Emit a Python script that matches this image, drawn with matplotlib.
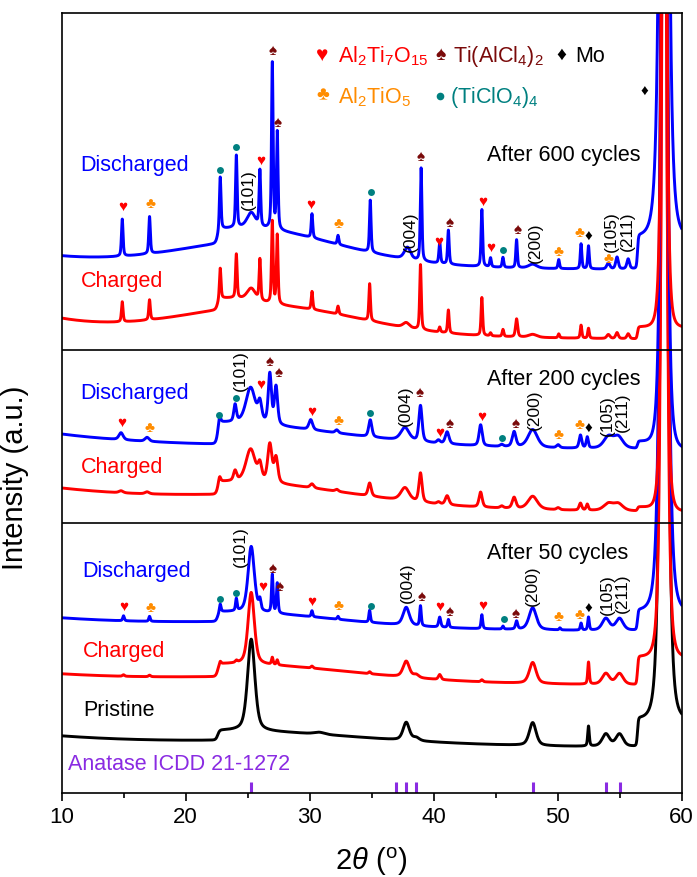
import numpy as np
import matplotlib
matplotlib.use("Agg")
import matplotlib.pyplot as plt

plt.rcParams['font.family'] = ['Liberation Sans', 'DejaVu Sans']
plt.rcParams['mathtext.fontset'] = 'custom'
plt.rcParams['mathtext.rm'] = 'Liberation Sans'
plt.rcParams['mathtext.it'] = 'Liberation Sans:italic'

# peaks: (2theta, height above background, fwhm)
top_dis_peaks = [(14.9, 37, 0.15), (17.1, 37, 0.15), (22.8, 53, 0.15), (24.1, 72, 0.15), (25.3, 15, 0.8),
                 (26.0, 56, 0.15), (27.0, 166, 0.15), (27.4, 97, 0.15), (30.2, 24, 0.15), (32.3, 9, 0.15),
                 (34.9, 52, 0.15), (37.9, 12, 0.6), (39.0, 93, 0.15), (40.5, 22, 0.15), (41.2, 34, 0.15),
                 (43.9, 57, 0.15), (44.6, 9, 0.15), (45.6, 10, 0.15), (46.7, 28, 0.15), (48.0, 4, 0.8),
                 (50.1, 9, 0.15), (51.9, 25, 0.15), (52.5, 23, 0.15), (54.1, 6, 0.3), (54.8, 12, 0.25),
                 (55.7, 10, 0.25)]
top_chg_peaks = [(14.9, 20, 0.15), (17.1, 20, 0.15), (22.8, 31, 0.15), (24.1, 44, 0.15), (25.3, 12, 0.8),
                 (26.0, 41, 0.15), (27.0, 82, 0.15), (27.4, 69, 0.15), (30.2, 18, 0.15), (32.3, 8, 0.15),
                 (34.85, 37, 0.15), (37.8, 5, 0.6), (38.95, 65, 0.15), (40.5, 5, 0.15), (41.2, 23, 0.15),
                 (43.9, 38, 0.15), (44.6, 3, 0.15), (45.6, 7, 0.15), (46.7, 18, 0.2), (48.0, 3, 0.8),
                 (50.1, 4, 0.15), (51.9, 13, 0.15), (52.5, 10, 0.15), (54.1, 4, 0.3), (54.8, 6, 0.25),
                 (55.7, 5, 0.25)]
mid_dis_peaks = [(14.8, 7, 0.4), (16.9, 4, 0.4), (22.75, 8, 0.2), (24.0, 17, 0.25), (25.25, 36, 0.9),
                 (26.0, 18, 0.35), (26.8, 50, 0.3), (27.3, 38, 0.3), (30.1, 10, 0.35), (32.2, 3, 0.3),
                 (34.9, 17, 0.3), (37.7, 13, 0.8), (38.95, 36, 0.3), (40.4, 3, 0.3), (41.1, 12, 0.35),
                 (43.8, 21, 0.3), (45.5, 2, 0.3), (46.5, 15, 0.35), (48.0, 18, 0.9), (50.05, 3, 0.3),
                 (51.85, 13, 0.25), (52.4, 11, 0.2), (54.1, 11.5, 0.9), (54.9, 11.5, 0.9)]
mid_chg_peaks = [(14.8, 2, 0.4), (16.9, 2, 0.4), (22.75, 6, 0.2), (24.0, 10, 0.3), (25.25, 33, 0.9),
                 (26.0, 15, 0.35), (26.8, 38, 0.4), (27.3, 25, 0.35), (30.2, 4, 0.35), (32.2, 2, 0.3),
                 (34.85, 13, 0.3), (37.7, 13, 0.8), (38.95, 29, 0.3), (40.4, 2, 0.3), (41.1, 9, 0.35),
                 (43.8, 15, 0.3), (45.5, 2, 0.3), (46.5, 11, 0.35), (48.0, 13, 0.9), (50.05, 2, 0.3),
                 (51.85, 7, 0.25), (52.4, 6, 0.2), (54.1, 7, 0.9), (54.9, 7, 0.9)]
bot_dis_peaks = [(15.0, 5, 0.15), (17.1, 5, 0.15), (22.8, 8, 0.15), (24.1, 12, 0.15), (25.3, 66, 0.6),
                 (26.0, 10, 0.2), (27.0, 38, 0.15), (27.4, 30, 0.15), (30.2, 6, 0.15), (32.3, 3, 0.15),
                 (34.85, 12, 0.15), (37.8, 18, 0.6), (38.95, 20, 0.15), (40.5, 10, 0.2), (41.2, 8, 0.15),
                 (43.9, 14, 0.15), (45.6, 3, 0.15), (46.7, 8, 0.2), (48.0, 22, 0.7), (50.2, 2, 0.15),
                 (51.9, 7, 0.15), (52.5, 13, 0.15), (53.9, 12, 0.7), (55.0, 12, 0.7)]
bot_chg_peaks = [(15.0, 1.5, 0.2), (17.1, 1.5, 0.2), (22.8, 3, 0.15), (24.1, 2, 0.2), (25.3, 72, 0.6),
                 (27.0, 7, 0.15), (27.4, 5, 0.15), (30.2, 2, 0.2), (34.85, 2, 0.2), (37.8, 16, 0.6),
                 (38.6, 3, 0.5), (40.5, 5, 0.25), (43.9, 2, 0.2), (48.0, 21, 0.65), (52.5, 22, 0.15),
                 (53.9, 11, 0.7), (55.0, 11, 0.7)]
pristine_peaks = [(25.3, 92, 0.7), (30.8, 2, 1.0), (37.8, 18, 0.6), (38.6, 3, 0.6), (48.0, 23, 0.65),
                  (52.5, 20, 0.15), (53.9, 12.5, 0.7), (55.0, 12.5, 0.7)]

# background: offset, slope, low-angle decay (amp, tau), broad hump, amorphous step (amp, tau),
# substrate shoulder (amp, tau), Mo substrate peak (height, width)
top_dis_bg = [529, -0.12, 7, 5, 26, 14, 7.5, 33, 99, 1871, 0.38]
top_chg_bg = [461, -0.15, 12.5, 5, 28, 11, 3.5, 12, 99, 1144, 0.26]
mid_dis_bg = [347, -0.07, 12, 8, 0, 22, 14, 7, 2, 1500, 0.3]
mid_chg_bg = [283, -0.05, 21.6, 15, 8, 13, 15, 4, 2, 1144, 0.26]
bot_dis_bg = [167, -0.11, 8, 10, 4, 10, 12, 20, 99, 1400, 0.38]
bot_chg_bg = [112, -0.09, 7, 10, 4, 13, 15, 28, 99, 1400, 0.3]
pristine_bg = [48, -0.05, 9, 10, 3, 10, 17, 28, 99, 1700, 0.35]

anatase_ref = [25.28, 36.95, 37.80, 38.58, 48.05, 53.89, 55.06]

# phase markers (kind, 2theta, y)
top_marks = [('h', 14.90, 586), ('c', 17.18, 589), ('o', 22.82, 623), ('o', 24.11, 646), ('h', 26.05, 632),
             ('s', 26.99, 742), ('s', 27.40, 670), ('h', 30.14, 588), ('c', 32.36, 569), ('o', 34.92, 601),
             ('s', 38.95, 636), ('h', 40.46, 551), ('s', 41.31, 570), ('h', 43.98, 591), ('h', 44.65, 545),
             ('o', 45.62, 543), ('s', 46.75, 563), ('c', 50.10, 541), ('c', 51.80, 560), ('d', 52.52, 556),
             ('c', 54.14, 534), ('d', 57.02, 701)]
mid_marks = [('h', 14.84, 370), ('c', 17.10, 365), ('o', 22.74, 378), ('o', 24.06, 395), ('h', 26.05, 408),
             ('s', 26.80, 431), ('s', 27.48, 420), ('h', 30.21, 381), ('c', 32.31, 372), ('o', 34.86, 380),
             ('s', 38.90, 400), ('h', 40.48, 360), ('s', 41.29, 369), ('h', 43.93, 376), ('o', 45.54, 355),
             ('s', 46.61, 369), ('c', 50.10, 358), ('c', 51.78, 368), ('d', 52.50, 364)]
bot_marks = [('h', 14.98, 186), ('c', 17.18, 185), ('o', 22.82, 194), ('o', 24.11, 200), ('h', 26.19, 206),
             ('s', 26.99, 224), ('s', 27.58, 206), ('h', 30.21, 191), ('c', 32.31, 187), ('o', 34.98, 187),
             ('s', 39.03, 196), ('h', 40.48, 186), ('s', 41.31, 181), ('h', 44.00, 187), ('o', 45.67, 174),
             ('s', 46.61, 179), ('c', 50.10, 176), ('c', 51.80, 178), ('d', 52.50, 184)]

# hkl labels (text, 2theta, y)
hkl_labels = [('(101)', 25.1, 603), ('(004)', 38.1, 561), ('(200)', 48.2, 550), ('(105)', 54.35, 561),
              ('(211)', 55.65, 562),
              ('(101)', 24.4, 422), ('(004)', 37.7, 387), ('(200)', 48.1, 383), ('(105)', 54.0, 377),
              ('(211)', 55.2, 381),
              ('(101)', 24.4, 246), ('(004)', 37.9, 210), ('(200)', 48.0, 207), ('(105)', 54.0, 198),
              ('(211)', 55.2, 200)]

symbols = {'h': ('\u2665', '#FF0000'), 'c': ('\u2663', '#FF8C00'), 's': ('\u2660', '#7A0A0A'),
           'd': ('\u2666', 'black'), 'o': (None, '#008080')}


def peaks(x, plist, eta=0.5):
    y = np.zeros_like(x)
    for p, h, f in plist:
        d = (x - p) / (f / 2)
        y += h * (eta / (1 + d ** 2) + (1 - eta) * np.exp(-np.log(2) * d ** 2))
    return y


def background(x, p):
    c, b, a, t0, gh, hh, ht, sh, st, mh, mw = p
    y = c + b * (x - 10) + a * np.exp(-(x - 10) / t0)
    y += gh * np.exp(-(x - 27) ** 2 / (2 * 7 ** 2))
    up = 0.5 * (1 + np.tanh((x - 22.6) / 0.16))
    y += hh * up * np.exp(-((x - 22.6) / ht) ** 2)
    up = 0.5 * (1 + np.tanh((x - 56.45) / 0.08))
    y += sh * up * np.exp(-((x - 56.45) / st) ** 2)
    y += mh / (1 + ((x - 58.6) / mw) ** 2) ** 2
    return y


x = np.linspace(10, 60, 10001)

fig = plt.figure(figsize=(6.97, 8.77), dpi=100)
ax = fig.add_axes([61.5 / 697, 84 / 877, 620 / 697, 780 / 877])

traces = [(pristine_peaks, pristine_bg, 'black'),
          (bot_chg_peaks, bot_chg_bg, '#FF0000'),
          (bot_dis_peaks, bot_dis_bg, '#0000FF'),
          (mid_chg_peaks, mid_chg_bg, '#FF0000'),
          (mid_dis_peaks, mid_dis_bg, '#0000FF'),
          (top_chg_peaks, top_chg_bg, '#FF0000'),
          (top_dis_peaks, top_dis_bg, '#0000FF')]
for pl, bg, col in traces:
    ax.plot(x, background(x, bg) + peaks(x, pl), color=col, lw=2.1, solid_joinstyle='round')

ax.axhline(443, color='black', lw=1.2)
ax.axhline(270, color='black', lw=1.2)

ax.vlines(anatase_ref, 0, 11, color='#8A2BE2', lw=2.2)
ax.text(10.56, 28, 'Anatase ICDD 21-1272', color='#8A2BE2', fontsize=15.5, ha='left', va='center')

for marks in (top_marks, mid_marks, bot_marks):
    for kind, mx, my in marks:
        ch, col = symbols[kind]
        if ch is None:
            ax.plot(mx, my, 'o', color=col, ms=5, mec='none')
        else:
            ax.text(mx, my, ch, color=col, fontsize=11, ha='center', va='center')

for lab, lx, ly in hkl_labels:
    ax.text(lx, ly, lab, rotation=90, fontsize=12.5, ha='center', va='center')

fs = 15.5
ax.text(11.53, 627, 'Discharged', color='#0000FF', fontsize=fs, va='center')
ax.text(11.53, 512, 'Charged', color='#FF0000', fontsize=fs, va='center')
ax.text(44.35, 638, 'After 600 cycles', fontsize=fs, va='center')
ax.text(11.53, 399, 'Discharged', color='#0000FF', fontsize=fs, va='center')
ax.text(11.53, 326, 'Charged', color='#FF0000', fontsize=fs, va='center')
ax.text(44.35, 414, 'After 200 cycles', fontsize=fs, va='center')
ax.text(11.7, 221, 'Discharged', color='#0000FF', fontsize=fs, va='center')
ax.text(11.7, 141, 'Charged', color='#FF0000', fontsize=fs, va='center')
ax.text(11.77, 82, 'Pristine', fontsize=fs, va='center')
ax.text(44.35, 240, 'After 50 cycles', fontsize=fs, va='center')

# phase legend
ax.text(31.05, 738, '\u2665', color='#FF0000', fontsize=15, ha='center', va='center')
ax.text(32.26, 731, r'Al$_2$Ti$_7$O$_{15}$', color='#FF0000', fontsize=fs, va='baseline')
ax.text(40.56, 738, '\u2660', color='#7A0A0A', fontsize=14, ha='center', va='center')
ax.text(41.6, 731, r'Ti(AlCl$_4$)$_2$', color='#7A0A0A', fontsize=fs, va='baseline')
ax.text(50.3, 738, '\u2666', color='black', fontsize=14, ha='center', va='center')
ax.text(51.45, 731, 'Mo', color='black', fontsize=fs, va='baseline')
ax.text(31.05, 697, '\u2663', color='#FF8C00', fontsize=14, ha='center', va='center')
ax.text(32.26, 690, r'Al$_2$TiO$_5$', color='#FF8C00', fontsize=fs, va='baseline')
ax.plot(40.56, 697, 'o', color='#008080', ms=5.5, mec='none')
ax.text(41.37, 690, r'(TiClO$_4$)$_4$', color='#008080', fontsize=fs, va='baseline')

ax.set_xlim(10, 60)
ax.set_ylim(0, 780)
ax.set_yticks([])
ax.set_xticks([10, 20, 30, 40, 50, 60])
ax.set_xticks([15, 25, 35, 45, 55], minor=True)
ax.tick_params(axis='x', which='major', direction='out', length=6, width=1.2, labelsize=16, pad=4)
ax.tick_params(axis='x', which='minor', direction='out', length=3.5, width=1.2)
for sp in ax.spines.values():
    sp.set_linewidth(1.2)

ax.set_xlabel(r'2$\it{\theta}$ ($^{\rm o}$)', fontsize=21)
ax.xaxis.set_label_coords(0.5, -0.068)
ax.set_ylabel('Intensity (a.u.)', fontsize=21)
ax.yaxis.set_label_coords(-0.053, 0.404)

fig.savefig('out.png', dpi=100)
